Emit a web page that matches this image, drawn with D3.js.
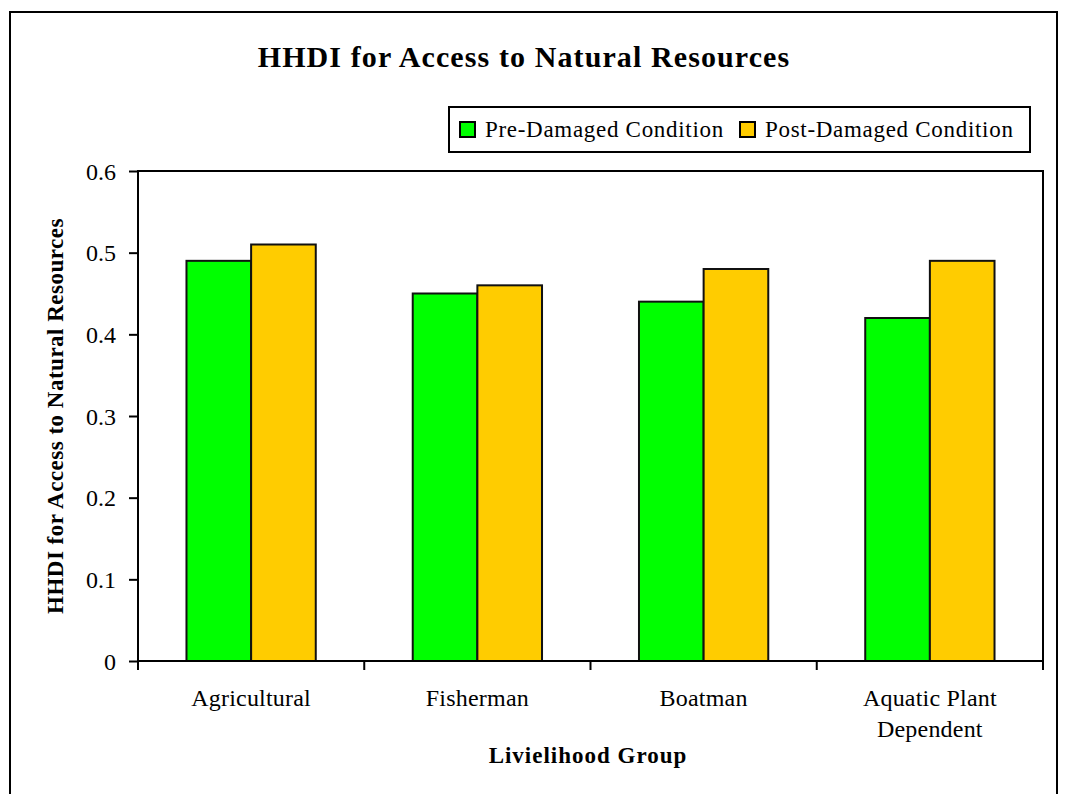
<!DOCTYPE html>
<html>
<head>
<meta charset="utf-8">
<script src="https://cdn.jsdelivr.net/npm/d3@7"></script>
<style>
  html, body { margin: 0; padding: 0; background: #fff; }
  svg { display: block; }
  text { font-family: "Liberation Serif", "Times New Roman", serif; fill: #000; }
</style>
</head>
<body>
<svg id="chart" width="1066" height="794"></svg>
<script>
// Livelihood groups and HHDI scores for access to natural resources
const categories = ["Agricultural", "Fisherman", "Boatman", "Aquatic Plant Dependent"];
const categoryLines = [["Agricultural"], ["Fisherman"], ["Boatman"], ["Aquatic Plant", "Dependent"]];
const seriesNames = ["Pre-Damaged Condition", "Post-Damaged Condition"];
const preDamaged = [0.49, 0.45, 0.44, 0.42];
const postDamaged = [0.51, 0.46, 0.48, 0.49];
const seriesColors = ["#00ff00", "#ffcc00"];
const yTicks = [0, 0.1, 0.2, 0.3, 0.4, 0.5, 0.6];

const titleText = "HHDI for Access to Natural Resources";
const yTitleText = "HHDI for Access to Natural Resources";
const xTitleText = "Livielihood Group";

const svg = d3.select("#chart");
const plot = { left: 138, right: 1043, top: 171, bottom: 661 };

// Outer chart frame
svg.append("rect")
  .attr("x", 10).attr("y", 12)
  .attr("width", 1047).attr("height", 800)
  .attr("fill", "#fff").attr("stroke", "#000").attr("stroke-width", 2);

const x0 = d3.scaleBand().domain(categories).range([plot.left, plot.right]).padding(0);
const x1 = d3.scaleBand().domain(seriesNames).range([0, x0.bandwidth()])
  .paddingInner(0).paddingOuter(0.75);
const y = d3.scaleLinear().domain([0, 0.6]).range([plot.bottom, plot.top]);

const rows = categories.map((c, i) => ({ cat: c, values: [preDamaged[i], postDamaged[i]] }));

// Bars
const groups = svg.append("g").selectAll("g").data(rows).join("g")
  .attr("transform", d => `translate(${x0(d.cat)},0)`);
groups.selectAll("rect")
  .data(d => d.values.map((v, j) => ({ s: seriesNames[j], v, j })))
  .join("rect")
  .attr("x", d => x1(d.s))
  .attr("y", d => y(d.v))
  .attr("width", x1.bandwidth())
  .attr("height", d => y(0) - y(d.v))
  .attr("fill", d => seriesColors[d.j])
  .attr("stroke", "#111").attr("stroke-width", 2);

// Plot frame
svg.append("rect")
  .attr("x", plot.left).attr("y", plot.top)
  .attr("width", plot.right - plot.left).attr("height", plot.bottom - plot.top)
  .attr("fill", "none").attr("stroke", "#000").attr("stroke-width", 2);

// Y axis
const yAxis = svg.append("g")
  .attr("transform", `translate(${plot.left},0)`)
  .call(d3.axisLeft(y).tickValues(yTicks).tickSize(9).tickPadding(13)
    .tickFormat(d => d === 0 ? "0" : d3.format(".1f")(d)));
yAxis.select(".domain").remove();
yAxis.selectAll("line").attr("stroke", "#000").attr("stroke-width", 2);
yAxis.selectAll("text")
  .attr("font-family", "Liberation Serif").attr("font-size", 24)
  .attr("dy", "0.34em");

// X axis: ticks at category boundaries
const xBounds = categories.map(c => x0(c)).concat([plot.right]);
svg.append("g").selectAll("line").data(xBounds).join("line")
  .attr("x1", d => d).attr("x2", d => d)
  .attr("y1", plot.bottom).attr("y2", plot.bottom + 9)
  .attr("stroke", "#000").attr("stroke-width", 2);

const xLabels = svg.append("g").selectAll("text").data(categories).join("text")
  .attr("x", d => x0(d) + x0.bandwidth() / 2)
  .attr("y", 706)
  .attr("text-anchor", "middle")
  .attr("font-size", 24).attr("letter-spacing", 0.2);
xLabels.each(function(d, i) {
  d3.select(this).selectAll("tspan").data(categoryLines[i]).join("tspan")
    .attr("x", x0(d) + x0.bandwidth() / 2)
    .attr("dy", (t, k) => k === 0 ? 0 : 31)
    .text(t => t);
});

// Titles
svg.append("text")
  .attr("x", 524).attr("y", 67)
  .attr("text-anchor", "middle")
  .attr("font-size", 30).attr("font-weight", "bold").attr("letter-spacing", 1.1)
  .text(titleText);

svg.append("text")
  .attr("transform", `translate(63,${(plot.top + plot.bottom) / 2}) rotate(-90)`)
  .attr("text-anchor", "middle")
  .attr("font-size", 23).attr("font-weight", "bold").attr("letter-spacing", 0.5)
  .text(yTitleText);

svg.append("text")
  .attr("x", 588).attr("y", 763)
  .attr("text-anchor", "middle")
  .attr("font-size", 23).attr("font-weight", "bold").attr("letter-spacing", 1)
  .text(xTitleText);

// Legend
const legend = svg.append("g");
legend.append("rect")
  .attr("x", 449).attr("y", 107).attr("width", 581).attr("height", 45)
  .attr("fill", "#fff").attr("stroke", "#000").attr("stroke-width", 2);
const legendX = [460, 740];
seriesNames.forEach((name, i) => {
  legend.append("rect")
    .attr("x", legendX[i]).attr("y", 122).attr("width", 15).attr("height", 15)
    .attr("fill", seriesColors[i]).attr("stroke", "#000").attr("stroke-width", 2);
  legend.append("text")
    .attr("x", legendX[i] + 25).attr("y", 137)
    .attr("font-size", 23).attr("letter-spacing", 0.7)
    .text(name);
});
</script>
</body>
</html>
